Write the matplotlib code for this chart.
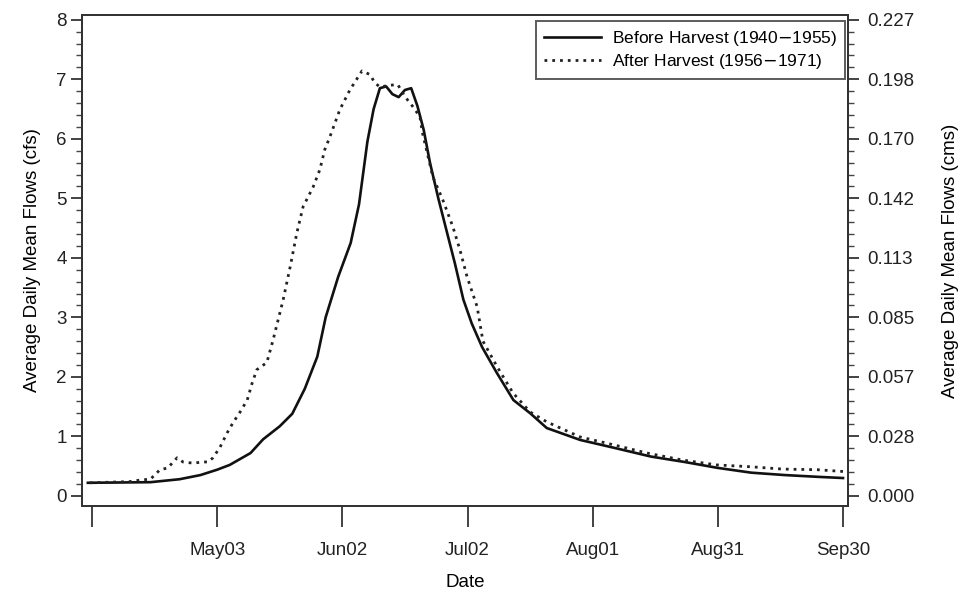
import matplotlib
matplotlib.use("Agg")
import matplotlib.pyplot as plt
from matplotlib.ticker import MultipleLocator, FixedLocator

plt.rcParams['font.family'] = ['Liberation Sans', 'DejaVu Sans']

# Day offsets from Apr 01
before_day = [1, 16, 23, 28, 32, 35, 40, 43, 47, 50, 53, 56, 58, 61, 64, 66, 68, 69.5, 71, 72.5,
              74, 75.5, 77, 78.5, 80, 81.5, 83, 85, 87, 89, 91, 93, 95.5, 99, 103, 107, 111,
              119, 127, 136, 144, 152, 160, 168, 176, 182]
before_cfs = [0.22, 0.23, 0.28, 0.35, 0.44, 0.52, 0.72, 0.95, 1.17, 1.38, 1.8, 2.34, 3.0, 3.68,
              4.25, 4.9, 5.95, 6.5, 6.85, 6.88, 6.75, 6.7, 6.82, 6.85, 6.55, 6.15, 5.6, 5.0, 4.45,
              3.9, 3.3, 2.9, 2.5, 2.07, 1.61, 1.39, 1.14, 0.94, 0.81, 0.66, 0.57, 0.47, 0.39,
              0.35, 0.32, 0.30]

after_day = [1.5, 11, 14, 16, 17, 18.3, 20.2, 21.2, 22.4, 23.8, 26.2, 28.6, 29.8, 31, 32.7, 34.4,
             35.8, 37.5, 39.2, 40.4, 41.5, 43.9, 45.4, 47.8, 49.5, 51.1, 52.6, 55, 56.6, 57.8,
             59, 61.4, 63.8, 66.7, 68.6, 69.8, 71, 73.4, 75.3, 77, 78.9, 80.6, 81.2, 83.7, 86.1,
             88.5, 90.2, 91.9, 94.3, 95.7, 99.1, 102.9, 107, 111.1, 119, 126.9, 135, 143.7,
             151.8, 159.7, 167.6, 175.8, 182]
after_cfs = [0.22, 0.24, 0.27, 0.28, 0.35, 0.44, 0.47, 0.55, 0.64, 0.57, 0.55, 0.57, 0.57, 0.64,
             0.82, 1.06, 1.23, 1.41, 1.61, 1.9, 2.12, 2.24, 2.62, 3.29, 3.85, 4.42, 4.86, 5.19,
             5.48, 5.82, 6.03, 6.49, 6.82, 7.14, 7.08, 6.94, 6.87, 6.9, 6.91, 6.71, 6.54, 6.37,
             6.1, 5.36, 4.97, 4.52, 4.13, 3.68, 3.18, 2.6, 2.17, 1.73, 1.41, 1.24, 0.99, 0.86,
             0.72, 0.6, 0.52, 0.49, 0.45, 0.44, 0.41]

xtick_days = [2, 32, 62, 92, 122, 152, 182]
xtick_labels = ['', 'May03', 'Jun02', 'Jul02', 'Aug01', 'Aug31', 'Sep30']
ytick_cfs = [0, 1, 2, 3, 4, 5, 6, 7, 8]
cms_labels = ['0.000', '0.028', '0.057', '0.085', '0.113', '0.142', '0.170', '0.198', '0.227']
CFS_TO_CMS = 0.0283168

fig = plt.figure(figsize=(9.61, 5.97), dpi=100)
ax = fig.add_axes([82/961, 1 - 506/597, (848 - 82)/961, (506 - 15)/597])

ax.plot(before_day, before_cfs, color='#111111', lw=1.9, ls='-',
        label='Before Harvest (1940$-$1955)')
ax.plot(after_day, after_cfs, color='#222222', lw=2.0, ls=(0, (1, 1.8)),
        label='After Harvest (1956$-$1971)')

ax.set_xlim(-0.4, 183.2)
ax.set_ylim(-0.17, 8.08)
ax.set_xticks(xtick_days)
ax.set_xticklabels(xtick_labels, fontsize=13.5)
ax.set_yticks(ytick_cfs)
ax.set_yticklabels([str(v) for v in ytick_cfs], fontsize=13.5)
ax.yaxis.set_minor_locator(MultipleLocator(0.2))
ax.tick_params(axis='x', which='major', direction='out', length=15, width=1.2, pad=11, colors='#222222')
ax.tick_params(axis='y', which='major', direction='out', length=8, width=1.2, pad=3, colors='#222222')
ax.tick_params(axis='y', which='minor', direction='out', length=4, width=1.0, colors='#444444')
for s in ax.spines.values():
    s.set_linewidth(1.4)
    s.set_color('#333333')

ax.set_xlabel('Date', fontsize=13.5, labelpad=11)
ax.set_ylabel('Average Daily Mean Flows (cfs)', fontsize=13.5, labelpad=11)

ax2 = ax.twinx()
ax2.set_ylim(-0.17 * CFS_TO_CMS, 8.08 * CFS_TO_CMS)
ax2.yaxis.set_major_locator(FixedLocator([v * CFS_TO_CMS for v in ytick_cfs]))
ax2.set_yticklabels(cms_labels, fontsize=13.5)
ax2.yaxis.set_minor_locator(MultipleLocator(0.2 * CFS_TO_CMS))
ax2.tick_params(axis='y', which='major', direction='out', length=8, width=1.2, pad=6, colors='#222222')
ax2.tick_params(axis='y', which='minor', direction='out', length=4, width=1.0, colors='#444444')
ax2.set_ylabel('Average Daily Mean Flows (cms)', fontsize=13.5, labelpad=20)
for s in ax2.spines.values():
    s.set_linewidth(1.4)
    s.set_color('#333333')

leg = ax.legend(loc='upper right', fontsize=12.5, frameon=True, fancybox=False,
                edgecolor='#333333', handlelength=3.3, handletextpad=0.6, borderpad=0.45,
                bbox_to_anchor=(0.9955, 0.988), labelspacing=0.25, borderaxespad=0)
leg.get_frame().set_linewidth(1.4)

fig.savefig('out.png', dpi=100, facecolor='white')
